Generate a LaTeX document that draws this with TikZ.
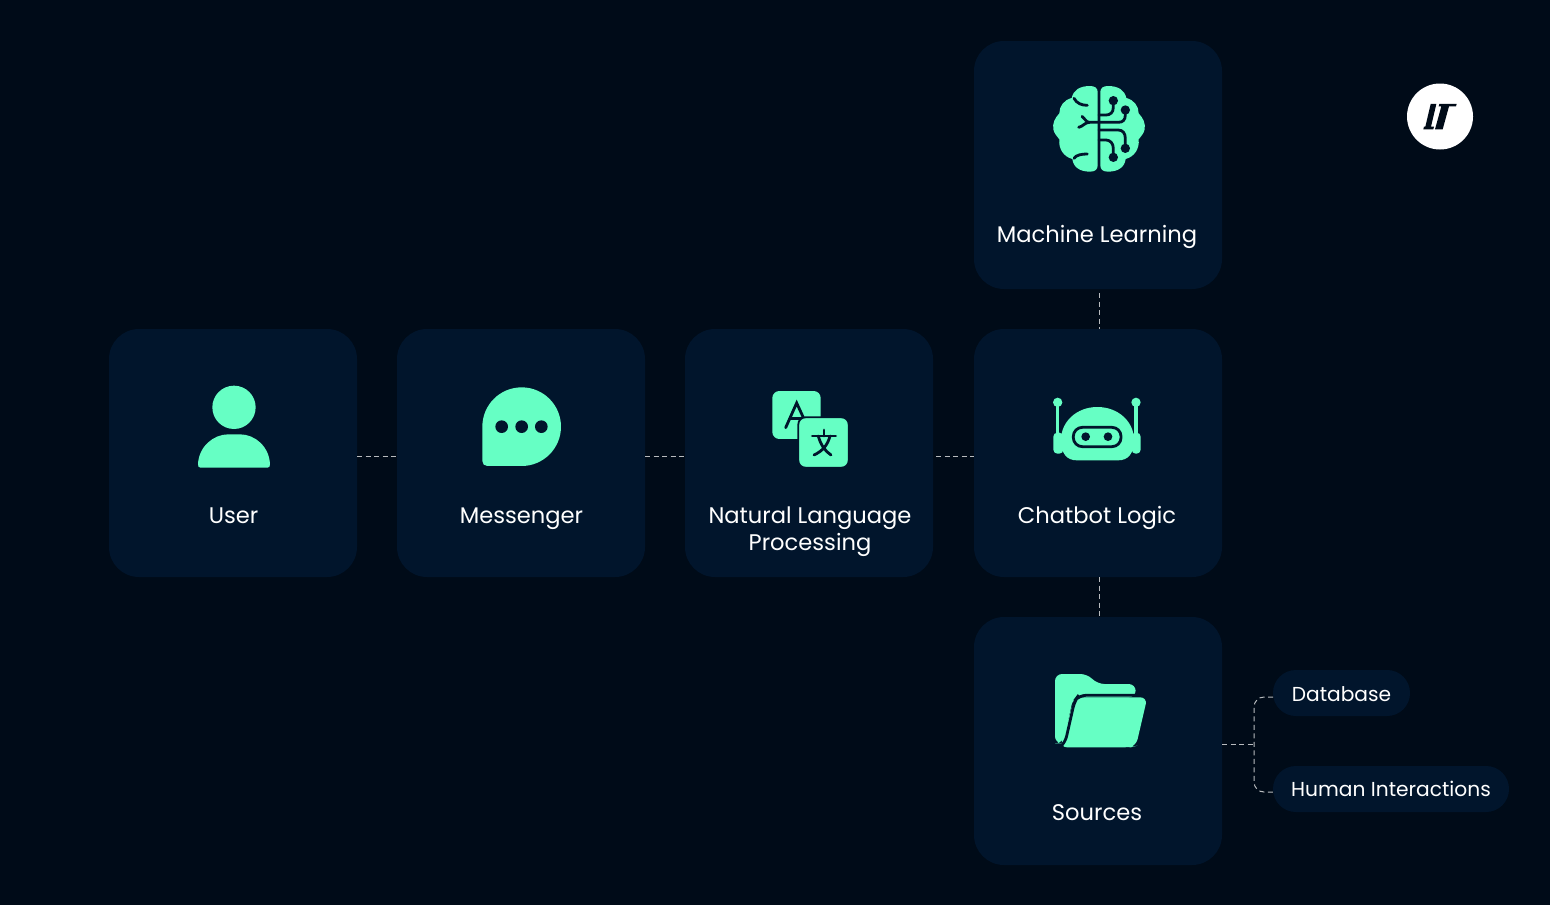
\documentclass[tikz,border=0pt]{standalone}
\usepackage{fontspec}
\setmainfont{Poppins}
\usetikzlibrary{positioning,calc}
\definecolor{bgdark}{HTML}{000B18}
\definecolor{boxdark}{HTML}{01152C}
\definecolor{mint}{HTML}{66FFC4}

\begin{document}
\begin{tikzpicture}[
        x=1pt, y=-1pt,
        node distance=40pt,
        card/.style={fill=boxdark, minimum width=248pt, minimum height=248pt, rounded corners=30pt, inner sep=0pt, outer sep=0pt},
        cardtext/.style={text=white, align=center, font=\fontsize{22.6}{27}\selectfont, inner sep=0pt},
        pill/.style={fill=boxdark, text=white, minimum height=46pt, rounded corners=22.9pt, inner sep=0pt, outer sep=0pt, font=\fontsize{20.2}{24}\selectfont},
        link/.style={draw=white!72!bgdark, line width=1pt, dash pattern=on 5pt off 3.5pt},
        icon/.style={fill=mint, draw=none},
        cut/.style={draw=boxdark, line width=2.8pt, line cap=round, fill=none},
        hole/.style={fill=boxdark, draw=none}
    ]
        \useasboundingbox (0,0) rectangle (1550,905);
        \fill [bgdark] (0,0) rectangle (1550,905);

        % Cards
        \node (user) [card] at (233,453) {};
        \node (msgr) [card, right=of user] {};
        \node (nlp) [card, right=of msgr] {};
        \node (bot) [card, right=of nlp, xshift=1pt] {};
        \node (ml) [card, above=of bot] {};
        \node (src) [card, below=of bot] {};

        % Card labels
        \node (userlabel) [cardtext, anchor=base] at ($(user)+(0.5,70)$) {User};
        \node (msgrlabel) [cardtext, anchor=base] at ($(msgr)+(0.5,70)$) {Messenger};
        \node (nlplabel) [cardtext] at ($(nlp)+(1,78.5)$) {Natural Language\\Processing};
        \node (botlabel) [cardtext, anchor=base] at ($(bot)+(-1,70)$) {Chatbot Logic};
        \node (mllabel) [cardtext, anchor=base] at ($(ml)+(-1,77)$) {Machine Learning};
        \node (srclabel) [cardtext, anchor=base] at ($(src)+(-1,79)$) {Sources};

        % Source pills
        \node (db) [pill, minimum width=137pt, text height=17pt, text depth=0.4pt] at (1341.5,693) {Database};
        \node (human) [pill, minimum width=236pt] at (1391,789) {Human Interactions};

        % Links
        \draw [link] ([yshift=-3pt]user.east) -- ([yshift=-3pt]msgr.west);
        \draw [link] ([yshift=-3pt]msgr.east) -- ([yshift=-3pt]nlp.west);
        \draw [link] ([xshift=3pt,yshift=-3pt]nlp.east) -- ([yshift=-3pt]bot.west);
        \draw [link] ([xshift=1pt,yshift=-4pt]ml.south) -- ([xshift=1pt]bot.north);
        \draw [link] ([xshift=1pt]bot.south) -- ([xshift=1pt]src.north);
        \coordinate (branch) at (1254,744);
        \draw [link] ([yshift=-3pt]src.east) -- (branch);
        \draw [link, rounded corners=10pt] ([yshift=-4pt]db.west) -| (branch) |- ([yshift=-3pt]human.west);

        % Logo
        \node (logo) [circle, fill=white, minimum size=66pt, inner sep=0pt] at (1440,116.5) {};
        \begin{scope}[shift={(1400,75)}, x=0.3333pt, y=-0.3333pt]
            \fill [bgdark] (92,87) -- (109,87) -- (93,155) -- (102,155) -- (100,163) -- (70,163) -- (72,155) -- (76,155) -- cycle;
            \fill [bgdark] (118,87) -- (170,87) -- (168,94) -- (147,94) -- (128,163) -- (105,163) -- (124,94) -- (116,94) -- cycle;
        \end{scope}

        % Brain
        \begin{scope}[shift={(1030,70)}, x=0.3333pt, y=-0.3333pt]
            \fill [icon] (203,66) .. controls (203,54) and (194,48) .. (180,48) .. controls (150,48) and (130,60) .. (125,84)
                .. controls (102,90) and (88,108) .. (88,130) .. controls (74,145) and (67,160) .. (70,178)
                .. controls (72,190) and (82,200) .. (88,208) .. controls (85,235) and (100,260) .. (127,267)
                .. controls (130,292) and (150,305) .. (180,305) .. controls (194,305) and (203,299) .. (203,287) -- cycle;
            \fill [icon] (211,66) .. controls (211,54) and (220,48) .. (234,48) .. controls (264,48) and (284,60) .. (289,84)
                .. controls (312,90) and (326,108) .. (326,130) .. controls (340,145) and (347,160) .. (344,178)
                .. controls (342,190) and (332,200) .. (326,208) .. controls (329,235) and (314,260) .. (287,267)
                .. controls (284,292) and (264,305) .. (234,305) .. controls (220,305) and (211,299) .. (211,287) -- cycle;
            \draw [cut] (132,85) .. controls (140,100) and (155,106) .. (172,106);
            \draw [cut] (132,265) .. controls (138,255) and (155,252) .. (172,252);
            \draw [cut] (207,157) -- (178,157) .. controls (168,157) and (165,145) .. (156,139);
            \draw [cut] (178,157) .. controls (165,157) and (158,170) .. (146,172);
            \draw [cut] (250,92) -- (250,112) .. controls (250,128) and (240,135) .. (228,135) -- (207,135);
            \draw [cut] (286,120) -- (286,135) .. controls (286,150) and (278,157) .. (265,157) -- (207,157);
            \draw [cut] (207,180) -- (265,180) .. controls (278,180) and (286,190) .. (286,205) -- (286,235);
            \draw [cut] (207,210) -- (228,210) .. controls (240,210) and (250,220) .. (250,235) -- (250,262);
            \fill [hole] (250,92) circle (14) (286,120) circle (14) (286,235) circle (14) (250,262) circle (14);
        \end{scope}

        % User icon
        \begin{scope}[shift={(180,375)}, x=0.3333pt, y=-0.3333pt]
            \fill [icon] (162,97) circle (65);
            \fill [icon] (54,268) .. controls (56,215) and (100,178) .. (145,178) -- (180,178) .. controls (225,178) and (268,215) .. (270,268)
                .. controls (270,275) and (268,278) .. (262,278) -- (62,278) .. controls (56,278) and (54,275) .. (54,268) -- cycle;
        \end{scope}

        % Messenger icon
        \begin{scope}[shift={(470,375)}, x=0.3333pt, y=-0.3333pt]
            \fill [icon] (37,155) arc [start angle=180, end angle=-90, x radius=118, y radius=-118] -- (52,273) .. controls (43,273) and (37,267) .. (37,258) -- cycle;
            \fill [hole] (95,155) circle (19) (155,155) circle (19) (214,155) circle (19);
        \end{scope}

        % Translate icon
        \begin{scope}[shift={(750,375)}, x=0.3333pt, y=-0.3333pt]
            \fill [icon, rounded corners=7pt] (67,48) rectangle (212,192);
            \draw [cut] (107,158) -- (140,84) -- (168,145);
            \draw [cut] (120,130) -- (160,130);
            \fill [mint, draw=boxdark, line width=1.8pt, rounded corners=7pt] (145,127) rectangle (296,278);
            \draw [cut] (187,183) -- (257,183);
            \draw [cut] (222,165) -- (222,183);
            \draw [cut] (205,183) .. controls (212,210) and (225,228) .. (243,240);
            \draw [cut] (240,183) .. controls (233,210) and (218,228) .. (192,240);
        \end{scope}

        % Bot icon
        \begin{scope}[shift={(1035,385)}, x=0.3333pt, y=-0.3333pt]
            \draw [mint, line width=3.4pt] (68,52) -- (68,150) (303,52) -- (303,150);
            \fill [mint] (68,52) circle (14) (303,52) circle (14);
            \fill [icon, rounded corners=4pt] (55,143) rectangle (85,206);
            \fill [icon, rounded corners=4pt] (290,143) rectangle (317,206);
            \fill [icon] (78,165) .. controls (78,110) and (125,66) .. (187,66) .. controls (250,66) and (297,110) .. (297,165)
                .. controls (297,205) and (280,226) .. (250,226) -- (125,226) .. controls (95,226) and (78,205) .. (78,165) -- cycle;
            \draw [cut, rounded corners=9pt] (115,127) rectangle (258,185);
            \fill [hole] (152,155) circle (13) (219,155) circle (13);
        \end{scope}

        % Folder icon
        \begin{scope}[shift={(1040,660)}, x=0.3333pt, y=-0.3333pt]
            \fill [icon, rounded corners=7pt] (45,42) -- (142,42) -- (172,72) -- (287,72) -- (287,112) -- (100,112) -- (72,235) -- (66,250) -- (45,250) -- cycle;
            \fill [mint, rounded corners=7pt] (60,262) -- (272,262) -- (288,258) -- (322,112) -- (115,112) -- (100,125) -- cycle;
            \draw [cut, rounded corners=7pt] (60,262) -- (75,250) -- (104,122) -- (116,106) -- (290,106);
        \end{scope}
    \end{tikzpicture}
\end{document}
